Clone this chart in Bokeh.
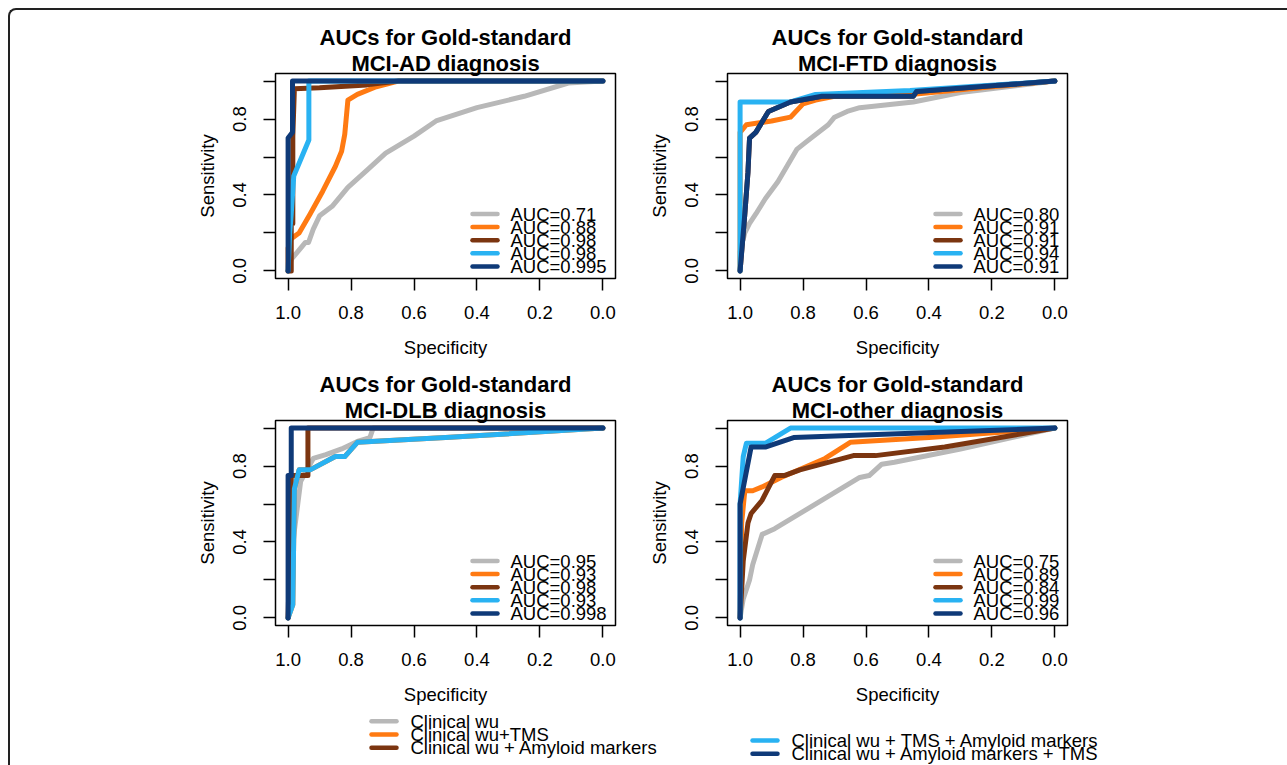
from bokeh.plotting import figure
from bokeh.layouts import column, row
from bokeh.models import Range1d, FixedTicker, Spacer, Title
from bokeh.core.properties import value
from bokeh.embed import file_html
from bokeh.resources import INLINE

FONT = "Liberation Sans"

# ---------------- data ----------------
series_names = ["Clinical wu", "Clinical wu+TMS", "Clinical wu + Amyloid markers",
                "Clinical wu + TMS + Amyloid markers", "Clinical wu + Amyloid markers + TMS"]
series_colors = ["#b8b8b8", "#ff7a12", "#7b3510", "#29b2f2", "#0f3a78"]

title_line1 = "AUCs for Gold-standard"
panel_titles = ["MCI-AD diagnosis", "MCI-FTD diagnosis", "MCI-DLB diagnosis", "MCI-other diagnosis"]

x_ticks = [1.0, 0.8, 0.6, 0.4, 0.2, 0.0]
x_tick_labels = ["1.0", "0.8", "0.6", "0.4", "0.2", "0.0"]
y_ticks = [0.0, 0.2, 0.4, 0.6, 0.8, 1.0]
y_tick_labels = ["0.0", "", "0.4", "", "0.8", ""]
x_label = "Specificity"
y_label = "Sensitivity"

# MCI-AD
ad_auc = ["AUC=0.71", "AUC=0.88", "AUC=0.98", "AUC=0.98", "AUC=0.995"]
ad_grey_spec = [1.0, 0.99, 0.96, 0.945, 0.935, 0.92, 0.90, 0.86, 0.81, 0.75, 0.69, 0.60, 0.53, 0.40, 0.25, 0.11, 0.0]
ad_grey_sens = [0.0, 0.06, 0.12, 0.15, 0.15, 0.22, 0.29, 0.34, 0.44, 0.53, 0.62, 0.71, 0.79, 0.86, 0.92, 0.99, 1.0]
ad_orange_spec = [1.0, 1.0, 0.99, 0.965, 0.93, 0.89, 0.85, 0.83, 0.82, 0.81, 0.78, 0.72, 0.65, 0.0]
ad_orange_sens = [0.0, 0.12, 0.17, 0.20, 0.30, 0.42, 0.55, 0.63, 0.72, 0.90, 0.93, 0.97, 1.0, 1.0]
ad_brown_spec = [1.0, 0.99, 0.99, 0.985, 0.985, 0.98, 0.90, 0.75, 0.65, 0.0]
ad_brown_sens = [0.0, 0.0, 0.25, 0.25, 0.71, 0.96, 0.965, 0.98, 1.0, 1.0]
ad_lblue_spec = [1.0, 0.995, 0.99, 0.982, 0.934, 0.934, 0.0]
ad_lblue_sens = [0.0, 0.20, 0.30, 0.50, 0.69, 1.0, 1.0]
ad_navy_spec = [1.0, 1.0, 0.986, 0.986, 0.0]
ad_navy_sens = [0.0, 0.70, 0.73, 1.0, 1.0]

# MCI-FTD
ftd_auc = ["AUC=0.80", "AUC=0.91", "AUC=0.91", "AUC=0.94", "AUC=0.91"]
ftd_grey_spec = [1.0, 1.0, 0.985, 0.97, 0.95, 0.92, 0.88, 0.82, 0.79, 0.72, 0.70, 0.66, 0.62, 0.45, 0.30, 0.0]
ftd_grey_sens = [0.0, 0.10, 0.20, 0.25, 0.30, 0.38, 0.47, 0.64, 0.68, 0.77, 0.81, 0.84, 0.86, 0.89, 0.94, 1.0]
ftd_orange_spec = [1.0, 1.0, 0.98, 0.90, 0.84, 0.80, 0.76, 0.70, 0.45, 0.20, 0.0]
ftd_orange_sens = [0.0, 0.73, 0.77, 0.79, 0.81, 0.88, 0.90, 0.92, 0.93, 0.97, 1.0]
ftd_brown_spec = [1.0, 0.985, 0.975, 0.97, 0.95, 0.91, 0.84, 0.74, 0.45, 0.44, 0.20, 0.0]
ftd_brown_sens = [0.0, 0.30, 0.52, 0.70, 0.73, 0.84, 0.89, 0.92, 0.92, 0.945, 0.975, 1.0]
ftd_lblue_spec = [1.0, 1.0, 0.84, 0.76, 0.46, 0.0]
ftd_lblue_sens = [0.0, 0.89, 0.89, 0.93, 0.95, 1.0]
ftd_navy_spec = [1.0, 0.985, 0.975, 0.97, 0.95, 0.91, 0.84, 0.74, 0.45, 0.44, 0.20, 0.0]
ftd_navy_sens = [0.0, 0.30, 0.52, 0.70, 0.73, 0.84, 0.89, 0.92, 0.92, 0.945, 0.975, 1.0]

# MCI-DLB
dlb_auc = ["AUC=0.95", "AUC=0.93", "AUC=0.98", "AUC=0.93", "AUC=0.998"]
dlb_grey_spec = [1.0, 0.99, 0.98, 0.96, 0.92, 0.88, 0.83, 0.78, 0.74, 0.73, 0.0]
dlb_grey_sens = [0.0, 0.30, 0.46, 0.72, 0.84, 0.86, 0.89, 0.93, 0.95, 1.0, 1.0]
dlb_orange_spec = [1.0, 0.985, 0.98, 0.965, 0.93, 0.85, 0.82, 0.78, 0.50, 0.0]
dlb_orange_sens = [0.0, 0.07, 0.68, 0.78, 0.78, 0.85, 0.85, 0.925, 0.95, 1.0]
dlb_brown_spec = [1.0, 0.99, 0.99, 0.937, 0.937, 0.0]
dlb_brown_sens = [0.0, 0.70, 0.75, 0.75, 1.0, 1.0]
dlb_lblue_spec = [1.0, 0.985, 0.98, 0.965, 0.93, 0.85, 0.82, 0.78, 0.50, 0.0]
dlb_lblue_sens = [0.0, 0.07, 0.68, 0.78, 0.78, 0.85, 0.85, 0.925, 0.95, 1.0]
dlb_navy_spec = [1.0, 1.0, 0.99, 0.99, 0.0]
dlb_navy_sens = [0.0, 0.75, 0.75, 1.0, 1.0]

# MCI-other
oth_auc = ["AUC=0.75", "AUC=0.89", "AUC=0.84", "AUC=0.99", "AUC=0.96"]
oth_grey_spec = [1.0, 0.99, 0.97, 0.96, 0.93, 0.89, 0.82, 0.72, 0.62, 0.59, 0.55, 0.51, 0.30, 0.0]
oth_grey_sens = [0.0, 0.10, 0.20, 0.28, 0.44, 0.47, 0.54, 0.64, 0.74, 0.75, 0.81, 0.82, 0.89, 1.0]
oth_orange_spec = [1.0, 0.995, 0.985, 0.96, 0.93, 0.87, 0.80, 0.73, 0.65, 0.40, 0.0]
oth_orange_sens = [0.0, 0.50, 0.67, 0.67, 0.69, 0.74, 0.79, 0.84, 0.925, 0.95, 1.0]
oth_brown_spec = [1.0, 0.99, 0.975, 0.965, 0.93, 0.89, 0.86, 0.81, 0.64, 0.57, 0.35, 0.0]
oth_brown_sens = [0.0, 0.30, 0.50, 0.55, 0.62, 0.75, 0.75, 0.78, 0.855, 0.855, 0.90, 1.0]
oth_lblue_spec = [1.0, 1.0, 0.99, 0.98, 0.92, 0.84, 0.0]
oth_lblue_sens = [0.0, 0.60, 0.85, 0.92, 0.92, 1.0, 1.0]
oth_navy_spec = [1.0, 1.0, 0.965, 0.92, 0.83, 0.41, 0.0]
oth_navy_sens = [0.0, 0.60, 0.90, 0.90, 0.95, 0.975, 1.0]

panels = [
    (panel_titles[0], ad_auc, [(ad_grey_spec, ad_grey_sens), (ad_orange_spec, ad_orange_sens),
                               (ad_brown_spec, ad_brown_sens), (ad_lblue_spec, ad_lblue_sens),
                               (ad_navy_spec, ad_navy_sens)]),
    (panel_titles[1], ftd_auc, [(ftd_grey_spec, ftd_grey_sens), (ftd_orange_spec, ftd_orange_sens),
                                (ftd_brown_spec, ftd_brown_sens), (ftd_lblue_spec, ftd_lblue_sens),
                                (ftd_navy_spec, ftd_navy_sens)]),
    (panel_titles[2], dlb_auc, [(dlb_grey_spec, dlb_grey_sens), (dlb_orange_spec, dlb_orange_sens),
                                (dlb_brown_spec, dlb_brown_sens), (dlb_lblue_spec, dlb_lblue_sens),
                                (dlb_navy_spec, dlb_navy_sens)]),
    (panel_titles[3], oth_auc, [(oth_grey_spec, oth_grey_sens), (oth_orange_spec, oth_orange_sens),
                                (oth_brown_spec, oth_brown_sens), (oth_lblue_spec, oth_lblue_sens),
                                (oth_navy_spec, oth_navy_sens)]),
]

# ---------------- layout constants ----------------
FW, FH = 340, 205
XR = (1.04, -0.04)
YR = (-0.04, 1.04)
PX_X = FW / (XR[0] - XR[1])
PX_Y = FH / (YR[1] - YR[0])
LW = 5
FS = "18.5px"


def style_title(t, standoff):
    t.align = "center"
    t.text_font = FONT
    t.text_font_size = "22px"
    t.text_font_style = "bold"
    t.text_color = "black"
    t.standoff = standoff


def make_panel(title2, aucs, curves, bl, br, bt, bb):
    p = figure(frame_width=FW, frame_height=FH,
               x_range=Range1d(*XR), y_range=Range1d(*YR),
               output_backend="svg", toolbar_location=None,
               min_border_left=bl, min_border_right=br,
               min_border_top=bt, min_border_bottom=bb)
    p.background_fill_color = "white"
    p.border_fill_color = "white"
    p.outline_line_color = "black"
    p.outline_line_width = 1.5
    p.grid.visible = False

    # outer title line (plot title is placed farthest from the frame)
    p.title.text = title_line1
    style_title(p.title, 1)
    # inner title line, next to the frame
    t2 = Title(text=title2)
    style_title(t2, -4)
    p.add_layout(t2, "above")

    for ax, ticks, labels, lab in ((p.xaxis, x_ticks, x_tick_labels, x_label),
                                   (p.yaxis, y_ticks, y_tick_labels, y_label)):
        ax.ticker = FixedTicker(ticks=ticks)
        ax.major_label_overrides = {t: l for t, l in zip(ticks, labels)}
        ax.axis_line_color = None
        ax.major_tick_out = 12
        ax.major_tick_in = 0
        ax.minor_tick_out = 0
        ax.minor_tick_in = 0
        ax.major_tick_line_color = "black"
        ax.major_tick_line_width = 1.5
        ax.major_label_text_font = FONT
        ax.major_label_text_font_size = FS
        ax.major_label_text_color = "black"
        ax.axis_label = lab
        ax.axis_label_text_font = FONT
        ax.axis_label_text_font_size = FS
        ax.axis_label_text_font_style = "normal"
        ax.axis_label_text_color = "black"
    p.xaxis.major_label_standoff = 15
    p.xaxis.axis_label_standoff = 15
    p.yaxis.major_label_standoff = 17
    p.yaxis.axis_label_standoff = 13
    p.yaxis.major_label_orientation = "vertical"

    for (xs, ys), c in zip(curves, series_colors):
        p.line(xs, ys, line_color=c, line_width=LW, line_join="round", line_cap="round")

    # legend (R style, bottom right, overlapping rows)
    maxlen = max(len(a) for a in aucs)
    shift = (9 - maxlen) * 11
    sw0 = XR[0] - (195 + shift + 2) / PX_X
    sw1 = XR[0] - (224 + shift - 2) / PX_X
    tx = XR[0] - (235 + shift) / PX_X
    rows_y = [YR[0] + (64.5 - 13.1 * i) / PX_Y for i in range(len(aucs))]
    p.segment(x0=[sw0] * len(aucs), y0=rows_y, x1=[sw1] * len(aucs), y1=rows_y,
              line_color=series_colors, line_width=4.5, line_cap="round")
    p.text(x=[tx] * len(aucs), y=rows_y, text=aucs, text_font=value(FONT),
           text_font_size=FS, text_baseline="middle", text_align="left", text_color="black")
    return p


# page origin at (0,0); inner bordered box starts at (8,8), its content at (10,10)
f1 = make_panel(*panels[0], bl=95, br=25, bt=63, bb=87)
f2 = make_panel(*panels[1], bl=87, br=23, bt=63, bb=87)
f3 = make_panel(*panels[2], bl=95, br=25, bt=55, bb=85)
f4 = make_panel(*panels[3], bl=87, br=23, bt=55, bb=85)

INNER_W = 1277
LEG_H = 55
leg = figure(width=INNER_W, height=LEG_H, x_range=Range1d(0, INNER_W), y_range=Range1d(LEG_H, 0),
             output_backend="svg", toolbar_location=None, min_border=0,
             x_axis_type=None, y_axis_type=None)
leg.outline_line_color = None
leg.background_fill_color = "white"
leg.border_fill_color = "white"

left_idx = [0, 1, 2]
right_idx = [3, 4]
left_rows = [10.7, 24.0, 37.3]
right_rows = [30.0, 43.3]
for idx, rows, x0, x1, tx in ((left_idx, left_rows, 361, 386, 400),
                              (right_idx, right_rows, 742, 767, 781)):
    leg.segment(x0=[x0] * len(idx), y0=rows, x1=[x1] * len(idx), y1=rows,
                line_color=[series_colors[i] for i in idx], line_width=4.5, line_cap="round")
    leg.text(x=[tx] * len(idx), y=rows, text=[series_names[i] for i in idx],
             text_font=value(FONT), text_font_size=FS, text_baseline="middle",
             text_align="left", text_color="black")

SP_L = 170
SP_R = INNER_W - SP_L - 460 - 450
row1 = row(Spacer(width=SP_L, height=355), f1, f2, Spacer(width=SP_R, height=355))
row2 = row(Spacer(width=SP_L, height=345), f3, f4, Spacer(width=SP_R, height=345))
inner = column(row1, row2, leg,
               styles={"border-top": "2px solid #222", "border-left": "2px solid #222",
                       "border-top-left-radius": "8px"})
layout = column(Spacer(width=1287, height=8), row(Spacer(width=8, height=500), inner))

open("out.html", "w").write(file_html(layout, INLINE))
